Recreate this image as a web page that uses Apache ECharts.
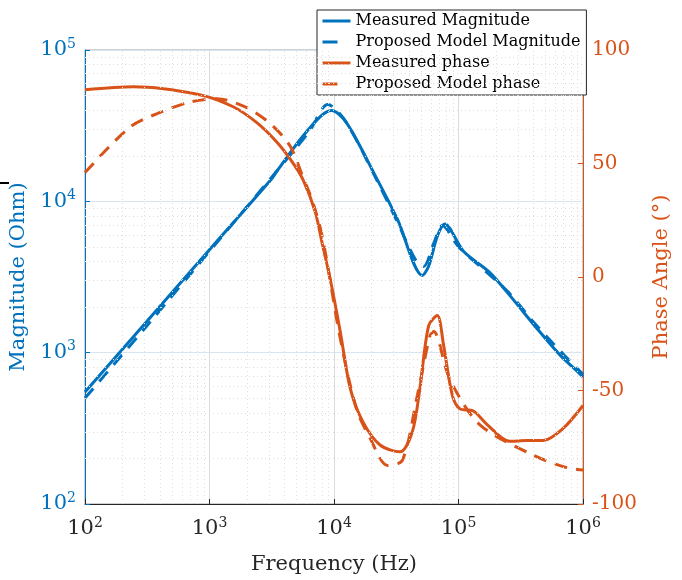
<!DOCTYPE html>
<html>
<head>
<meta charset="utf-8">
<script src="https://cdn.jsdelivr.net/npm/echarts@6/dist/echarts.min.js"></script>
<style>
  html, body { margin: 0; padding: 0; background: #fff; }
  #main { width: 682px; height: 580px; }
</style>
</head>
<body>
<div id="main"></div>
<script>
// magnitude, measured (Hz, Ohm)
var magFreq = [100, 316, 1000, 3162, 3548, 5370, 7762, 9550, 12590, 22390, 32360, 51290, 57540, 67610, 77620, 109600, 177800, 257000, 426600, 660700, 891300, 1000000];
var magMeasured = [550, 1620, 4790, 14100, 16200, 25700, 36300, 39800, 33100, 13800, 7590, 3240, 3720, 5890, 7080, 4680, 3390, 2400, 1445, 955, 759, 692];

// magnitude, model
var modelMagFreq = [100, 316, 1000, 3162, 6310, 8913, 12590, 22390, 31620, 44670, 52480, 63100, 74130, 100000, 158500, 251200, 398100, 707900, 1000000];
var modelMag = [501, 1514, 4677, 14450, 28840, 43650, 33110, 13490, 7586, 4169, 3715, 5248, 6918, 5012, 3548, 2512, 1600, 960, 720];

// phase, measured (Hz, deg)
var phaseFreq = [100, 245, 832, 1549, 2399, 3467, 4467, 5623, 7079, 8128, 9333, 11220, 13490, 16980, 23440, 33880, 42660, 48980, 57540, 67610, 75860, 89130, 102300, 131800, 169800, 257000, 354800, 478600, 691800, 1000000];
var phaseMeasured = [82.5, 83.8, 80.3, 75, 68, 59.5, 51.8, 43, 28.5, 13.6, -1, -24, -49, -63.6, -74, -77, -68, -49, -21.5, -17, -30, -52, -58, -59, -65, -72.4, -72, -72, -66.7, -56.6];

// phase, model
var modelPhaseFreq = [100, 229, 380, 692, 1148, 1995, 3162, 4467, 5623, 6761, 8128, 11220, 15140, 19500, 26920, 35480, 46770, 58880, 63100, 85110, 147900, 398100, 741300, 1000000];
var modelPhase = [46, 66, 72, 77, 78.5, 74.6, 67, 57.5, 44, 33, 16.7, -27, -58, -71, -83, -80.7, -52, -26, -24, -45, -65, -78.5, -84, -85];

var BLUE = '#0072BD';
var ORANGE = '#D95319';
var FONT = 'DejaVu Serif';

function pairs(xs, ys) {
  return xs.map(function (x, i) { return [x, ys[i]]; });
}

// minor grid positions (2..9 in each decade)
function minors(from, to) {
  var out = [];
  for (var d = from; d < to; d *= 10) {
    for (var k = 2; k <= 9; k++) out.push(d * k);
  }
  return out;
}
var xMinor = minors(100, 1000000);
var yMinor = minors(100, 100000);

function powLabel(color) {
  return {
    color: color,
    formatter: function (v) {
      return '{b|10}{s|' + Math.round(Math.log10(v)) + '}';
    },
    rich: {
      b: { fontFamily: FONT, fontSize: 21, color: color },
      s: { fontFamily: FONT, fontSize: 14, color: color, padding: [0, 0, 12, 0] }
    }
  };
}

var myChart = echarts.init(document.getElementById('main'));
var option = {
  animation: false,
  backgroundColor: '#fff',
  grid: {
    left: 85, right: 99, top: 50, bottom: 73,
    show: true, borderColor: '#a0a0a0', borderWidth: 1
  },
  legend: {
    orient: 'vertical',
    left: 317, top: 10,
    padding: [3, 6, 3, 4],
    itemGap: 5,
    itemWidth: 28, itemHeight: 16,
    backgroundColor: '#fff',
    borderColor: '#262626', borderWidth: 1,
    itemStyle: { opacity: 0 },
    lineStyle: { width: 3 },
    textStyle: { fontFamily: FONT, fontSize: 16, color: '#000' },
    data: [
      { name: 'Measured Magnitude' },
      { name: 'Proposed Model Magnitude', lineStyle: { width: 3, type: [15, 40] } },
      { name: 'Measured phase' },
      { name: 'Proposed Model phase', lineStyle: { width: 3, type: [15, 40] } }
    ]
  },
  xAxis: {
    type: 'log', logBase: 10, min: 100, max: 1000000,
    name: 'Frequency (Hz)', nameLocation: 'middle', nameGap: 50,
    nameTextStyle: { fontFamily: FONT, fontSize: 21, color: '#262626' },
    axisLine: { onZero: false, lineStyle: { color: '#262626' } },
    axisTick: { inside: true, length: 5, lineStyle: { color: '#262626' } },
    axisLabel: Object.assign(powLabel('#262626'), { margin: 12 }),
    splitLine: { show: true, lineStyle: { color: '#dcdcdc', width: 1 } }
  },
  yAxis: [
    {
      type: 'log', logBase: 10, min: 100, max: 100000,
      name: 'Magnitude (Ohm)', nameLocation: 'middle', nameGap: 56, nameRotate: 90,
      nameTextStyle: { fontFamily: FONT, fontSize: 21, color: BLUE },
      axisLine: { show: true, lineStyle: { color: BLUE } },
      axisTick: { inside: true, length: 5, lineStyle: { color: BLUE } },
      axisLabel: Object.assign(powLabel(BLUE), { margin: 9 }),
      splitLine: { show: true, lineStyle: { color: '#d6e6f3', width: 1 } }
    },
    {
      type: 'value', min: -100, max: 100, interval: 50,
      position: 'right',
      name: 'Phase Angle (°)', nameLocation: 'middle', nameGap: 68, nameRotate: 90,
      nameTextStyle: { fontFamily: FONT, fontSize: 21, color: ORANGE },
      axisLine: { show: true, lineStyle: { color: ORANGE } },
      axisTick: { inside: true, length: 5, lineStyle: { color: ORANGE } },
      axisLabel: { fontFamily: FONT, fontSize: 20, color: ORANGE, margin: 9 },
      splitLine: { show: false }
    }
  ],
  graphic: [
    { type: 'line', shape: { x1: 0, y1: 183, x2: 9, y2: 183 }, style: { stroke: '#000', lineWidth: 2 } }
  ],
  series: [
    {
      name: 'minor grid', type: 'line', data: [], z: 1, silent: true,
      markLine: {
        silent: true, symbol: 'none', label: { show: false },
        lineStyle: { color: '#dedede', type: [1, 3], width: 1 },
        data: xMinor.map(function (v) { return { xAxis: v }; })
          .concat(yMinor.map(function (v) { return { yAxis: v }; }))
      }
    },
    {
      name: 'Measured Magnitude', type: 'line', yAxisIndex: 0,
      data: pairs(magFreq, magMeasured), smooth: 0.3, showSymbol: false, symbol: 'none',
      lineStyle: { color: BLUE, width: 3 }, itemStyle: { color: BLUE }, z: 3
    },
    {
      name: 'Proposed Model Magnitude', type: 'line', yAxisIndex: 0,
      data: pairs(modelMagFreq, modelMag), smooth: 0.3, showSymbol: false, symbol: 'none',
      lineStyle: { color: BLUE, width: 3, type: [13, 9] }, itemStyle: { color: BLUE }, z: 3
    },
    {
      name: 'Measured phase', type: 'line', yAxisIndex: 1,
      data: pairs(phaseFreq, phaseMeasured), smooth: 0.3, showSymbol: false, symbol: 'none',
      lineStyle: { color: ORANGE, width: 3 }, itemStyle: { color: ORANGE }, z: 3
    },
    {
      name: 'Proposed Model phase', type: 'line', yAxisIndex: 1,
      data: pairs(modelPhaseFreq, modelPhase), smooth: 0.3, showSymbol: false, symbol: 'none',
      lineStyle: { color: ORANGE, width: 3, type: [13, 9] }, itemStyle: { color: ORANGE }, z: 3
    }
  ]
};

myChart.setOption(option);
</script>
</body>
</html>
